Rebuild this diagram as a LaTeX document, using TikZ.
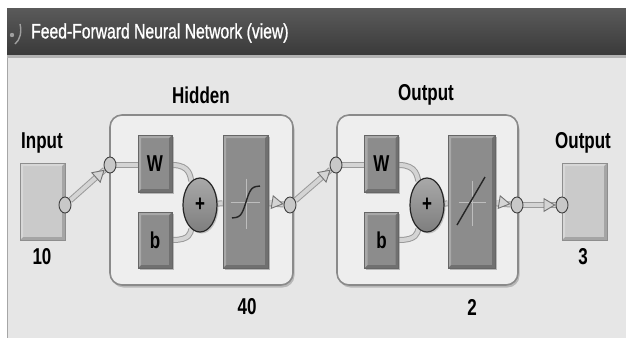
\documentclass[tikz,border=0pt]{standalone}
\usepackage{fontspec}
\setmainfont{Liberation Sans}
\newfontfamily\titlefont[FakeBold=1.2]{Liberation Sans}
\usepackage{graphicx}
\usetikzlibrary{shapes.geometric,arrows.meta,calc,shadows}
\definecolor{bgbody}{HTML}{E6E6E6}
\definecolor{bartop}{HTML}{5A5A5A}
\definecolor{barmid}{HTML}{4A4A4A}
\definecolor{barbot}{HTML}{3A3A3A}
\definecolor{layerfill}{HTML}{EEEEEE}
\definecolor{layeredge}{HTML}{8A8A8A}
\definecolor{compfill}{HTML}{8C8C8C}
\definecolor{compedge}{HTML}{666666}
\definecolor{iofill}{HTML}{CACACA}
\definecolor{ioedge}{HTML}{8E8E8E}
\definecolor{pipefill}{HTML}{D4D4D4}
\definecolor{pipeedge}{HTML}{9A9A9A}
\definecolor{dotfill}{HTML}{C8C8C8}
\definecolor{crossc}{HTML}{BDBDBD}
\pgfdeclarelayer{bg}
\pgfdeclarelayer{pipes}
\pgfsetlayers{bg,pipes,main}
\newcommand\mylbl[1]{\scalebox{1}[1.35]{\bfseries\fontsize{17}{17}\selectfont #1}}
\tikzset{
  bevel/.style={path picture={
    \fill[black, opacity=#1]
      (path picture bounding box.south west) -- (path picture bounding box.south east)
      -- (path picture bounding box.north east)
      -- ($(path picture bounding box.north east)+(-3,3)$)
      -- ($(path picture bounding box.south east)+(-3,-3)$)
      -- ($(path picture bounding box.south west)+(3,-3)$) -- cycle;
    \fill[white, opacity=0.25]
      (path picture bounding box.north west) -- (path picture bounding box.north east)
      -- ($(path picture bounding box.north east)+(-3,3)$)
      -- ($(path picture bounding box.north west)+(3,3)$)
      -- ($(path picture bounding box.south west)+(3,-3)$)
      -- (path picture bounding box.south west) -- cycle;
  }},
  layerbox/.style={draw=layeredge, line width=1.6pt, fill=layerfill, rounded corners=12pt,
    drop shadow={shadow xshift=1.5pt, shadow yshift=-2.5pt, opacity=0.45},
    inner sep=0pt, minimum width=183pt, minimum height=170pt},
  comp/.style={draw=compedge, line width=0.8pt, fill=compfill, inner sep=0pt, bevel=0.2,
    drop shadow={shadow xshift=1.5pt, shadow yshift=-1.5pt, opacity=0.5}},
  iobox/.style={draw=ioedge, line width=1pt, fill=iofill, bevel=0.18,
    inner sep=0pt, minimum width=45pt, minimum height=77pt},
  dot/.style={ellipse, draw=black!75, line width=0.9pt, fill=dotfill, minimum width=12pt,
    minimum height=16pt, inner sep=0pt},
  sumnode/.style={ellipse, draw=black!85, line width=1.2pt, top color=compfill!75!white,
    bottom color=compfill!90!black, minimum width=34pt, minimum height=54pt, inner sep=0pt,
    drop shadow={shadow xshift=1.5pt, shadow yshift=-1.5pt, opacity=0.4}},
  pipe/.style={draw=pipeedge, double=pipefill, double distance=4pt, line width=1pt},
  tipline/.style={draw=pipefill, line width=3pt,
    -{Triangle[color=black!55, fill=pipefill, length=12pt, width=14pt, line width=0.9pt]}},
  glyph/.style={black!85, line width=1.4pt},
  crossl/.style={crossc, line width=0.8pt}
}
\begin{document}
\begin{tikzpicture}[x=1pt,y=-1pt]
\useasboundingbox (0,0) rectangle (626,338);
\begin{pgfonlayer}{bg}
  \fill[white] (0,0) rectangle (626,338);
  \fill[bgbody] (7,57) rectangle (626,338);
  \draw[black!35, line width=1pt] (7.5,57) -- (7.5,338);
  \shade[top color=bartop, middle color=barmid, bottom color=barbot] (7,8) rectangle (626,55);
  \fill[black!30] (7,55) rectangle (626,58);
  \node[layerbox] (hid) at (201.5,200) {};
  \node[layerbox, minimum width=181pt] (outl) at (427.5,200) {};
\end{pgfonlayer}
% title
\draw[gray!75, line width=1.4pt] (20,24) .. controls (22,32) and (20,40) .. (15,44);
\fill[gray!75] (12,35) circle (2.2);
\node[anchor=west, text=white, inner sep=0pt] (title) at (31,33)
  {\scalebox{1}[1.33]{\titlefont\fontsize{15.7}{16}\selectfont Feed-Forward Neural Network (view)}};
% input block
\node[iobox] (inbox) at (42.5,201.5) {};
\node (lin) at (42,143) {\mylbl{Input}};
\node (nin) at (42,257) {\mylbl{10}};
% hidden layer
\node (lhid) at (201,95) {\mylbl{Hidden}};
\node (nhid) at (247,307) {\mylbl{40}};
\node[comp, minimum width=34pt, minimum height=57pt] (hW) at (155,163.5) {\mylbl{W}};
\node[comp, minimum width=34pt, minimum height=56pt] (hb) at (155,240) {\mylbl{b}};
\node[sumnode] (hplus) at (200,205) {\mylbl{+}};
\node[comp, minimum width=45pt, minimum height=133pt] (htf) at (245.5,201.5) {};
% output layer
\node (lout) at (426,95) {\mylbl{Output}};
\node (nout) at (472,307) {\mylbl{2}};
\node[comp, minimum width=34pt, minimum height=57pt] (oW) at (381.5,163.5) {\mylbl{W}};
\node[comp, minimum width=34pt, minimum height=56pt] (ob) at (381.5,240) {\mylbl{b}};
\node[sumnode] (oplus) at (427,205) {\mylbl{+}};
\node[comp, minimum width=47pt, minimum height=133pt] (otf) at (471.5,201.5) {};
% output block
\node[iobox] (outbox) at (584.5,201.5) {};
\node (lob) at (583,143) {\mylbl{Output}};
\node (nob) at (583,257) {\mylbl{3}};
% connection dots
\node[dot] (inout) at (65,205) {};
\node[dot] (hin) at (110,165) {};
\node[dot] (hout) at (290,205) {};
\node[dot] (oin) at (336,165) {};
\node[dot] (oout) at (517,205) {};
\node[dot] (outin) at (562,205) {};
% transfer glyphs
\draw[crossl] ($(htf)+(-15,0.5)$) -- ($(htf)+(14,0.5)$);
\draw[crossl] ($(htf)+(0.5,-23)$) -- ($(htf)+(0.5,27)$);
\draw[glyph] plot[domain=-14:14, samples=40] ({246+\x}, {202-16*tanh(\x/5)});
\draw[crossl] ($(otf)+(-13,0.5)$) -- ($(otf)+(14,0.5)$);
\draw[crossl] ($(otf)+(0.5,-21)$) -- ($(otf)+(0.5,24)$);
\draw[glyph] ($(otf)+(-14.5,23.5)$) -- ($(otf)+(13.5,-24.5)$);
% pipes
\begin{pgfonlayer}{pipes}
  \draw[pipe] (inout) -- (hin);
  \draw[pipe] (hin) -- (hin -| hW.west);
  \draw[pipe] (hW.east |- hin) .. controls ($(hW.east |- hin)+(18,0)$) and ($(hplus)+(-10,-28)$) .. (hplus);
  \draw[pipe] (hb.east) .. controls ($(hb.east)+(18,0)$) and ($(hplus)+(-10,28)$) .. (hplus);
  \draw[pipe] (hplus) -- (htf);
  \draw[pipe] (htf) -- (hout);
  \draw[pipe] (hout) -- (oin);
  \draw[pipe] (oin) -- (oin -| oW.west);
  \draw[pipe] (oW.east |- oin) .. controls ($(oW.east |- oin)+(18,0)$) and ($(oplus)+(-10,-28)$) .. (oplus);
  \draw[pipe] (ob.east) .. controls ($(ob.east)+(18,0)$) and ($(oplus)+(-10,28)$) .. (oplus);
  \draw[pipe] (oplus) -- (otf);
  \draw[pipe] (otf) -- (oout);
  \draw[pipe] (oout) -- (outin);
  \draw[tipline] ($(inout)!0.4!(hin)$) -- (hin);
  \draw[tipline] (htf.east) -- (hout);
  \draw[tipline] ($(hout)!0.4!(oin)$) -- (oin);
  \draw[tipline] (otf.east) -- (oout);
  \draw[tipline] ($(oout)!0.3!(outin)$) -- (outin);
\end{pgfonlayer}
\end{tikzpicture}
\end{document}
